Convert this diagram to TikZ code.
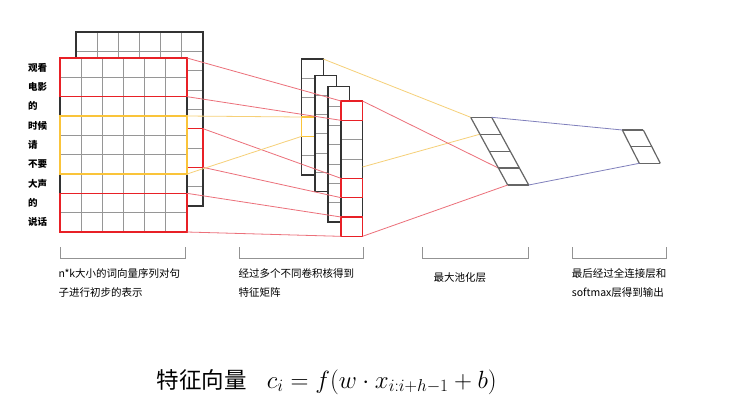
\documentclass[tikz,border=0pt]{standalone}
\usepackage{amsmath}
\usepackage{fontspec}
\usetikzlibrary{calc}
\usetikzlibrary{positioning}

\newfontfamily\cjk{Noto Sans CJK SC}

\definecolor{cellred}{RGB}{232,32,38}
\definecolor{cellyellow}{RGB}{250,196,58}
\definecolor{linkred}{RGB}{236,112,122}
\definecolor{linkyellow}{RGB}{246,208,120}
\definecolor{linkblue}{RGB}{128,128,188}
\definecolor{gridgray}{RGB}{150,150,150}

\tikzset{
    gridline/.style={gridgray, line width=0.9pt},
    frameline/.style={black!80, line width=1.1pt},
    redbox/.style={cellred, line width=1.4pt},
    yellowbox/.style={cellyellow, line width=1.4pt},
    redlink/.style={linkred, line width=0.8pt},
    yellowlink/.style={linkyellow, line width=0.8pt},
    bluelink/.style={linkblue, line width=0.8pt},
    poolline/.style={black!60, line width=1.2pt},
    bracket/.style={gray!85, line width=1pt},
    wordlabel/.style={font=\cjk\fontsize{9.5}{11}\selectfont\bfseries, anchor=west, inner sep=0pt},
    caption/.style={font=\cjk\fontsize{10.5}{19}\selectfont, align=left, anchor=north west, inner sep=0pt},
}

\newcommand{\cellblock}[6]{%
    \fill[white] (#1,#2) rectangle ++({#3*#5},{#4*#6});
    \pgfmathtruncatemacro{\lastcol}{#5-1}
    \pgfmathtruncatemacro{\lastrow}{#6-1}
    \ifnum\lastcol>0
        \foreach \c in {1,...,\lastcol}
            \draw[gridline] ({#1+\c*#3},#2) -- ++(0,{#4*#6});
    \fi
    \foreach \r in {1,...,\lastrow}
        \draw[gridline] (#1,{#2+\r*#4}) -- ++({#3*#5},0);
    \draw[frameline] (#1,#2) rectangle ++({#3*#5},{#4*#6});
}

\newcommand{\slantcolumn}[5]{%
    \foreach \k in {0,...,#5}
        \draw[poolline] ({#1+\k*#3},{#2+\k*#4}) -- ++(21,0);
    \draw[poolline] (#1,#2) -- ++({#5*#3},{#5*#4});
    \draw[poolline] ({#1+21},#2) -- ++({#5*#3},{#5*#4});
}

\begin{document}
\begin{tikzpicture}[x=1pt,y=-1pt]
                \useasboundingbox (0,0) rectangle (742,416);
                \fill[white] (0,0) rectangle (742,416);

                \cellblock{76}{32}{21.17}{19.33}{6}{9}
                \draw[redbox] (76,128.67) rectangle (203,167.33);

                \cellblock{60}{58}{21.17}{19.33}{6}{9}
                \draw[redbox] (60,58) rectangle (187,96.67);
                \draw[yellowbox] (60,116) rectangle (187,174);
                \draw[redbox] (60,193.33) rectangle (187,232);

                \foreach \w [count=\i from 0] in {观看,电影,的,时候,请,不要,大声,的,说话}
                    \node[wordlabel] (word\i) at (28,{58+19.33*(\i+0.5)}) {\w};

                \cellblock{301.7}{59}{21.5}{19.33}{1}{6}
                \draw[yellowbox] (301.7,117) rectangle ++(21.5,19.33);
                \cellblock{315}{75.7}{21.5}{19.33}{1}{6}
                \cellblock{328}{86.7}{21.5}{19.33}{1}{7}
                \cellblock{341}{101}{21.5}{19.33}{1}{7}
                \draw[redbox] (341,101) rectangle ++(21.5,19.33);
                \draw[redbox] (341,178.33) rectangle ++(21.5,19.33);
                \draw[redbox] (341,217) rectangle ++(21.5,19.33);

                \coordinate (Fa) at (187,58);
                \coordinate (Fb) at (187,96.67);
                \coordinate (Fc) at (187,116);
                \coordinate (Fd) at (187,174);
                \coordinate (Fe) at (187,193.33);
                \coordinate (Ff) at (187,232);
                \coordinate (Ba) at (203,128.67);
                \coordinate (Bb) at (203,167.33);
                \coordinate (M1a) at (301.7,117);
                \coordinate (M1b) at (301.7,136.33);
                \coordinate (M1top) at (323.2,59);
                \coordinate (M4a) at (341,101);
                \coordinate (M4b) at (341,120.33);
                \coordinate (M4c) at (341,178.33);
                \coordinate (M4d) at (341,197.67);
                \coordinate (M4e) at (341,217);
                \coordinate (M4f) at (341,236.33);
                \coordinate (M4top) at (362.5,101);
                \coordinate (M4mid) at (362.5,167);
                \coordinate (M4bot) at (362.5,236.33);
                \coordinate (Pa) at (470.7,117.3);
                \coordinate (Pb) at (479.95,134.2);
                \coordinate (Pc) at (498.45,168.1);
                \coordinate (Pd) at (507.7,185);
                \coordinate (Pe) at (491.7,117.3);
                \coordinate (Pf) at (528.7,185);
                \coordinate (Oa) at (622.3,130);
                \coordinate (Ob) at (639.3,163.3);

                \draw[redlink] (Fa) -- (M4a);
                \draw[redlink] (Fb) -- (M4b);
                \draw[redlink] (Ba) -- (M4c);
                \draw[redlink] (Bb) -- (M4d);
                \draw[redlink] (Fe) -- (M4e);
                \draw[redlink] (Ff) -- (M4f);
                \draw[yellowlink] (Fc) -- (M1a);
                \draw[yellowlink] (Fd) -- (M1b);

                \draw[yellowlink] (M1top) -- (Pa);
                \draw[yellowlink] (M4mid) -- (Pb);
                \draw[redlink] (M4top) -- (Pc);
                \draw[redlink] (M4bot) -- (Pd);

                \slantcolumn{470.7}{117.3}{9.25}{16.93}{4}
                \slantcolumn{622.3}{130}{8.5}{16.67}{2}

                \draw[bluelink] (Pe) -- (Oa);
                \draw[bluelink] (Pf) -- (Ob);

                \draw[bracket] (60.7,247) -- (60.7,258.3) -- (185.7,258.3) -- (185.7,247);
                \draw[bracket] (239,247) -- (239,258.3) -- (363.3,258.3) -- (363.3,247);
                \draw[bracket] (422.3,247) -- (422.3,258.3) -- (528.3,258.3) -- (528.3,247);
                \draw[bracket] (572.3,247) -- (572.3,258.3) -- (666,258.3) -- (666,247);

                \node[caption] (inputtext) at (58.3,268) {n*k大小的词向量序列对句\\子进行初步的表示};
                \node[caption] (convtext) at (238.3,268) {经过多个不同卷积核得到\\特征矩阵};
                \node[caption] (pooltext) at (433.3,272.2) {最大池化层};
                \node[caption] (outtext) at (571.7,268) {最后经过全连接层和\\softmax层得到输出};

                \node[anchor=base west, inner sep=0pt, font=\fontsize{22.5}{27}\selectfont] (formula) at (156.7,388)
                    {{\cjk 特征向量}\hspace{20pt}{\fontsize{25.5}{30}\selectfont$c_i = f(w\cdot x_{i:i+h-1} + b)$}};
            \end{tikzpicture}
\end{document}
